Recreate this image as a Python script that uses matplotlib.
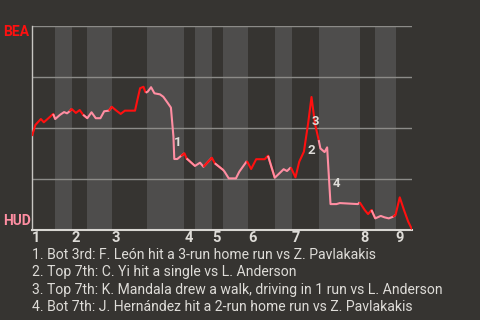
import matplotlib
matplotlib.use('Agg')
import matplotlib.pyplot as plt

bg = '#363431'
band_light = '#4e4d4c'
grid_gray = '#8c8b88'
text_gray = '#dedcd8'
bea_red = '#ff1010'
hud_pink = '#ff8ea2'

# game progress (plate appearances) and BEA win probability
progress = [0.0, 0.8, 2.1, 2.8, 4.0, 5.0, 5.5, 6.6, 7.6, 8.3, 8.9, 9.4, 10.4, 11.3, 12.1,
            13.1, 14.1, 15.1, 16.2, 17.1, 18.2, 18.9, 19.8, 21.0, 22.0, 24.4, 25.0, 25.6,
            26.4, 26.9, 27.4, 28.2, 29.0, 30.3, 31.1, 32.1, 32.9, 33.5, 33.7, 34.4, 35.3,
            36.1, 36.6, 38.6, 39.8, 40.6, 42.6, 43.3, 45.3, 45.6, 46.6, 48.3, 49.1, 50.9,
            51.9, 53.1, 55.1, 55.9, 57.5, 59.6, 60.4, 61.3, 62.4, 63.3, 64.4, 65.4, 66.2,
            67.0, 67.9, 68.3, 69.3, 69.9, 70.7, 72.1, 72.9, 77.2, 77.6, 78.8, 79.6, 80.4,
            81.3, 82.6, 83.5, 84.5, 85.5, 86.1, 87.1, 88.1, 89.1, 90.0]
win_prob = [0.461, 0.515, 0.544, 0.528, 0.550, 0.569, 0.544, 0.564, 0.578, 0.572, 0.582,
            0.593, 0.574, 0.588, 0.565, 0.548, 0.577, 0.548, 0.548, 0.582, 0.585, 0.604,
            0.588, 0.569, 0.585, 0.585, 0.641, 0.695, 0.702, 0.673, 0.678, 0.700, 0.670,
            0.665, 0.653, 0.624, 0.600, 0.457, 0.348, 0.348, 0.363, 0.376, 0.351, 0.314,
            0.330, 0.310, 0.354, 0.327, 0.294, 0.286, 0.253, 0.253, 0.286, 0.338, 0.299,
            0.347, 0.347, 0.364, 0.256, 0.298, 0.289, 0.307, 0.258, 0.335, 0.384, 0.523,
            0.652, 0.523, 0.441, 0.400, 0.382, 0.405, 0.127, 0.127, 0.132, 0.127, 0.136,
            0.098, 0.078, 0.098, 0.057, 0.069, 0.062, 0.057, 0.065, 0.074, 0.160, 0.098,
            0.041, 0.003]

# start of each half inning (top 1st, bot 1st, ...), last entry is game end
half_starts = [0.0, 5.5, 9.4, 13.1, 18.9, 27.2, 36.1, 38.6, 42.6, 45.3, 51.2, 57.5,
               61.6, 68.0, 77.7, 81.3, 86.1, 90.0]
innings = ['1', '2', '3', '4', '5', '6', '7', '8', '9']

event_labels = ['1', '2', '3', '4']
event_x = [34.6, 66.1, 67.0, 72.0]
event_y = [0.43, 0.39, 0.53, 0.23]
event_notes = [
    '1. Bot 3rd: F. León hit a 3-run home run vs Z. Pavlakakis',
    '2. Top 7th: C. Yi hit a single vs L. Anderson',
    '3. Top 7th: K. Mandala drew a walk, driving in 1 run vs L. Anderson',
    '4. Bot 7th: J. Hernández hit a 2-run home run vs Z. Pavlakakis',
]

plt.rcParams['font.family'] = ['Roboto', 'DejaVu Sans']

fig = plt.figure(figsize=(4.8, 3.2), dpi=100, facecolor=bg)
ax = fig.add_axes([32 / 480, 1 - 230 / 320, 380 / 480, 204 / 320])
ax.set_facecolor(bg)

# shaded bottom halves
for i in range(len(half_starts) - 1):
    if i % 2 == 1:
        ax.axvspan(half_starts[i], half_starts[i + 1], color=band_light, lw=0, zorder=0)

for yv in [0.25, 0.5, 0.75, 1.0]:
    ax.axhline(yv, color=grid_gray, lw=1.0, zorder=1)

# line coloured by which half inning it is in
for i in range(len(half_starts) - 1):
    a, b = half_starts[i], half_starts[i + 1]
    xs, ys = [], []
    for k in range(len(progress)):
        if a - 0.05 <= progress[k] <= b + 0.05:
            if not xs and k > 0:
                xs.append(progress[k - 1])
                ys.append(win_prob[k - 1])
            xs.append(progress[k])
            ys.append(win_prob[k])
    col = bea_red if i % 2 == 0 else hud_pink
    ax.plot(xs, ys, color=col, lw=1.5, zorder=3, solid_capstyle='butt')

for lab, x, y in zip(event_labels, event_x, event_y):
    ax.text(x, y, lab, color=text_gray, fontsize=9.5, fontweight='bold',
            ha='center', va='center', zorder=4)

ax.set_xlim(0, 90)
ax.set_ylim(0, 1)
ax.set_xticks([])
ax.set_yticks([])
for s in ['top', 'right']:
    ax.spines[s].set_visible(False)
ax.spines['left'].set_color('#c8c6c2')
ax.spines['bottom'].set_color('#d8d6d2')
ax.spines['left'].set_linewidth(1.0)
ax.spines['bottom'].set_linewidth(1.5)

for k, lab in enumerate(innings):
    ax.text(half_starts[2 * k], -0.04, lab, color=text_gray, fontsize=10.5,
            fontweight='bold', ha='left', va='center', clip_on=False)

fig.text(3 / 480, 1 - 32 / 320, 'BEA', color=bea_red, fontsize=10, fontweight='bold',
         ha='left', va='center')
fig.text(3 / 480, 1 - 221 / 320, 'HUD', color=hud_pink, fontsize=10, fontweight='bold',
         ha='left', va='center')

notes = []
for k, note in enumerate(event_notes):
    notes.append(fig.text(32 / 480, 1 - (255 + 17.4 * k) / 320, note, color=text_gray,
                          fontsize=9.25, ha='left', va='center'))

# fit the first note to the width it has in the original (about 346 px)
renderer = fig.canvas.get_renderer()
w = notes[0].get_window_extent(renderer).width
size = 9.25 * 346 / w
for t in notes:
    t.set_fontsize(size)

fig.savefig('out.png', dpi=100, facecolor=bg)
